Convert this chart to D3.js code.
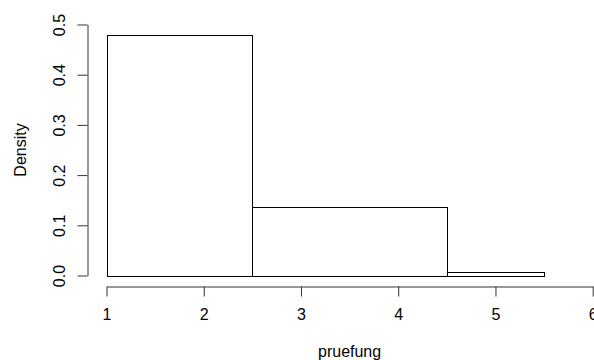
<!DOCTYPE html>
<html><head><meta charset="utf-8">
<script src="https://cdn.jsdelivr.net/npm/d3@7"></script>
<style>body{margin:0;background:#fff}svg{display:block}text{font-family:"Liberation Sans",Arial,sans-serif;fill:#000}</style>
</head><body><svg id="c" width="594" height="360"></svg>
<script>
const breaks = [1, 2.5, 4.5, 5.5];
const densities = [0.48, 0.137, 0.006];
const xTicks = [1, 2, 3, 4, 5, 6];
const yTicks = [0, 0.1, 0.2, 0.3, 0.4, 0.5];
const xLabel = "pruefung";
const yLabel = "Density";

const FS = 16;
const svg = d3.select("#c");
const x = d3.scaleLinear().domain([1, 6]).range([106.5, 592.7]);
const y = d3.scaleLinear().domain([0, 0.5]).range([275.5, 24.5]);

const bins = densities.map((d, i) => ({x0: breaks[i], x1: breaks[i + 1], d}));
svg.append("g").selectAll("rect").data(bins).join("rect")
  .attr("x", b => Math.round(x(b.x0)) + 0.5).attr("y", b => Math.round(y(b.d)) + 0.5)
  .attr("width", b => Math.round(x(b.x1)) - Math.round(x(b.x0)))
  .attr("height", b => Math.round(y(0)) - Math.round(y(b.d)))
  .attr("fill", "none").attr("stroke", "#000").attr("stroke-width", 1);

const xa = svg.append("g").attr("transform", "translate(0,286.5)")
  .call(d3.axisBottom(x).tickValues(xTicks).tickFormat(d3.format("d")).tickSize(10).tickSizeOuter(0));
const ya = svg.append("g").attr("transform", "translate(87.5,0)")
  .call(d3.axisLeft(y).tickValues(yTicks).tickFormat(d3.format(".1f")).tickSize(10).tickSizeOuter(0));
[xa, ya].forEach(a => {
  a.select(".domain").attr("stroke", "#333");
  a.selectAll(".tick line").attr("stroke", "#333");
  a.selectAll("text").attr("font-size", FS).attr("font-family", "Liberation Sans, Arial, sans-serif").attr("fill", "#000");
});
xa.selectAll(".tick text").attr("y", 33.5).attr("dy", 0);
ya.selectAll(".tick text").attr("transform", "translate(-22.5,0) rotate(-90)")
  .attr("x", 0).attr("y", 0).attr("dy", 0).attr("text-anchor", "middle");

svg.append("text").attr("x", x(3.5)).attr("y", 357).attr("text-anchor", "middle")
  .attr("font-size", FS).text(xLabel);
svg.append("text").attr("transform", `translate(26,${y(0.25)}) rotate(-90)`)
  .attr("text-anchor", "middle").attr("font-size", FS).text(yLabel);
</script></body></html>
